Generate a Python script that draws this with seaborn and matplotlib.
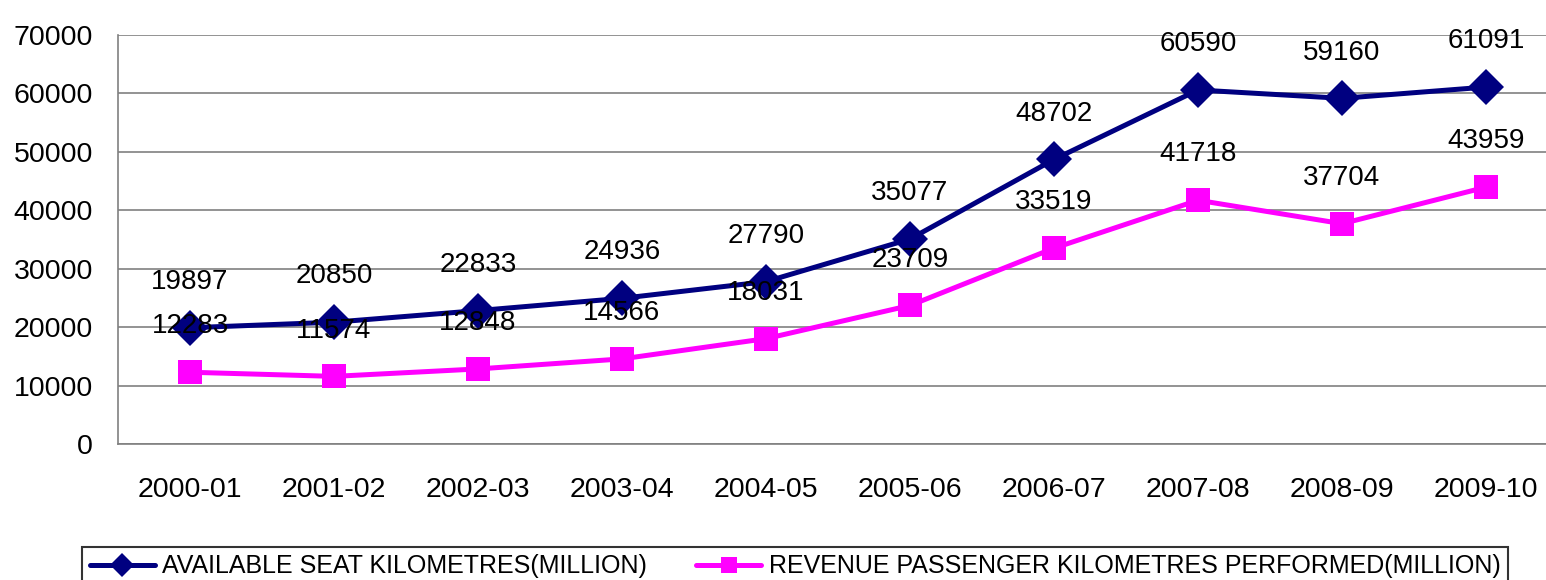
import pandas as pd
import numpy as np
import matplotlib.pyplot as plt
import seaborn as sns

# Data
years = ["2000-01", "2001-02", "2002-03", "2003-04", "2004-05",
         "2005-06", "2006-07", "2007-08", "2008-09", "2009-10"]
ask = [19897, 20850, 22833, 24936, 27790, 35077, 48702, 60590, 59160, 61091]
rpk = [12283, 11574, 12848, 14566, 18031, 23709, 33519, 41718, 37704, 43959]

ask_name = "AVAILABLE SEAT KILOMETRES(MILLION)"
rpk_name = "REVENUE PASSENGER KILOMETRES PERFORMED(MILLION)"

sns.set_style("white")
plt.rcParams['font.family'] = ['Liberation Sans', 'DejaVu Sans']
plt.rcParams['text.color'] = 'black'
plt.rcParams['xtick.labelcolor'] = 'black'
plt.rcParams['ytick.labelcolor'] = 'black'

df = pd.DataFrame({"pos": np.arange(len(years)), "ask": ask, "rpk": rpk})

fig = plt.figure(figsize=(15.46, 5.8), dpi=100)
ax = fig.add_axes([118 / 1546, 1 - 444 / 580, 1440 / 1546, 409 / 580])

sns.lineplot(data=df, x="pos", y="ask", ax=ax, color="#000080", lw=3.6,
             marker="D", markersize=18, markeredgewidth=0, label=ask_name)
sns.lineplot(data=df, x="pos", y="rpk", ax=ax, color="#FF00FF", lw=3.6,
             marker="s", markersize=17, markeredgewidth=0, label=rpk_name)

# data labels above the points
for col in ["ask", "rpk"]:
    for x, v in zip(df["pos"], df[col]):
        ax.annotate(str(v), (x, v), xytext=(0, 33), textcoords="offset points",
                    ha="center", va="center", fontsize=20, color="black")

ax.set_xlim(-0.5, 9.5)
ax.set_ylim(0, 70000)
ax.set_yticks(range(0, 70001, 10000))
ax.yaxis.grid(True, color="#808080", lw=1.2)
ax.set_axisbelow(True)

ax.set_xticks(np.arange(-0.5, 10, 1))
ax.set_xticklabels([])
ax.set_xticks(np.arange(len(years)), minor=True)
ax.set_xticklabels(years, minor=True)
ax.tick_params(axis="x", which="major", direction="out", length=8, width=1.2, color="#808080")
ax.tick_params(axis="x", which="minor", length=0, pad=24, labelsize=20.5, labelcolor="black")
ax.tick_params(axis="y", direction="out", length=8, width=1.2, color="#808080", pad=10,
               labelsize=20.5, labelcolor="black")
ax.set_xlabel("")
ax.set_ylabel("")

for s in ["top", "right"]:
    ax.spines[s].set_visible(False)
for s in ["left", "bottom"]:
    ax.spines[s].set_color("#808080")
    ax.spines[s].set_linewidth(1.2)

handles, labels = ax.get_legend_handles_labels()
ax.get_legend().remove()
leg = fig.legend(handles, labels, loc="upper left", ncol=2, mode="expand",
                 bbox_to_anchor=(82 / 1546, 0.0, 1426 / 1546, 1 - 547 / 580),
                 borderaxespad=0, fontsize=18, frameon=True, fancybox=False,
                 handlelength=2.6, handletextpad=0.3, borderpad=0.3, markerscale=0.7)
leg.get_frame().set_edgecolor("black")
leg.get_frame().set_linewidth(1.5)

fig.savefig("out.png", dpi=100)
